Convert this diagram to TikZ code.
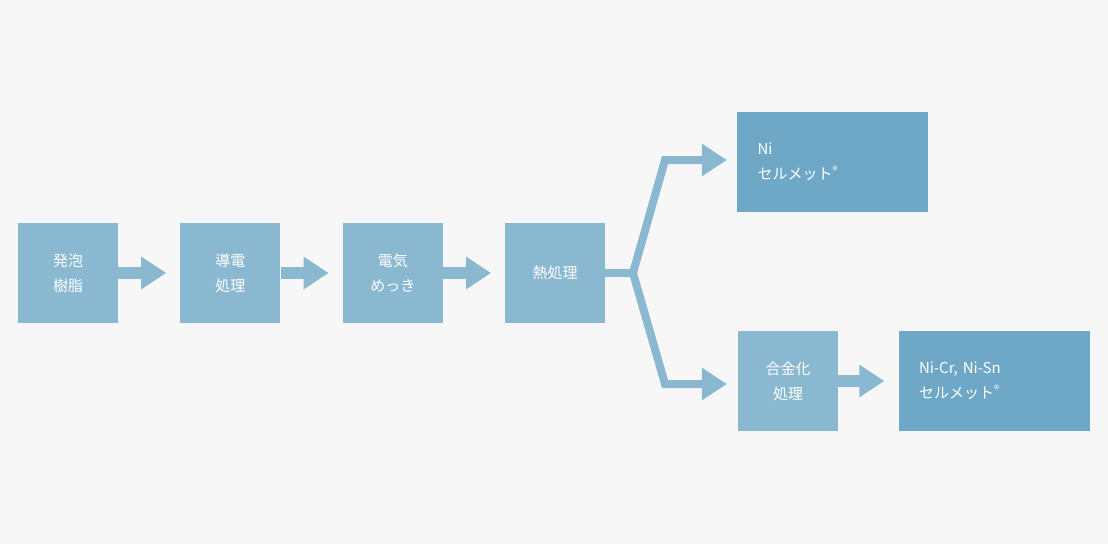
\documentclass[tikz,border=0pt]{standalone}
\usepackage{fontspec}
\setmainfont{Noto Sans CJK JP}
\usetikzlibrary{arrows.meta,positioning}
\definecolor{bgcol}{HTML}{F7F7F7}
\definecolor{boxlight}{HTML}{8AB8D1}
\definecolor{boxdark}{HTML}{6EA8C6}
\tikzset{
    stepbox/.style={shape=rectangle, fill=boxlight, text=white, minimum width=100pt, minimum height=100pt, align=center, font=\fontsize{15}{25}\selectfont, inner sep=0pt},
    resultbox/.style={stepbox, fill=boxdark, minimum width=191pt, align=left, text width=150pt},
    flow/.style={draw=boxlight, line width=12pt, -{Triangle[length=25pt,width=31pt]}},
    branch/.style={draw=boxlight, line width=8pt, line join=miter}
}
\begin{document}
\begin{tikzpicture}[x=1pt, y=-1pt, node distance=62pt]
    \fill[bgcol] (0,0) rectangle (1108,544);
    \node[stepbox] (foam) at (68,273) {発泡\\樹脂};
    \node[stepbox, right=of foam] (conduct) {導電\\処理};
    \node[stepbox, right=of conduct] (plating) {電気\\めっき};
    \node[stepbox, right=of plating] (heat) {熱処理};
    \node[resultbox] (nicermet) at (832.5,162) {Ni\\セルメット\textsuperscript{®}};
    \node[stepbox] (alloy) at (788,381) {合金化\\処理};
    \node[resultbox] (alloycermet) at (994,381) {Ni-Cr, Ni-Sn\\セルメット\textsuperscript{®}};
    \coordinate (fork) at (633,273);
    \coordinate (upbend) at (665,160);
    \coordinate (downbend) at (665,384);
    \draw[flow] (foam.east) -- ([xshift=-14pt]conduct.west);
    \draw[flow] (conduct.east) -- ([xshift=-14pt]plating.west);
    \draw[flow] (plating.east) -- ([xshift=-14pt]heat.west);
    \draw[flow] (alloy.east) -- ([xshift=-14pt]alloycermet.west);
    \draw[branch] (heat.east) -- (fork);
    \draw[branch] (fork) -- (upbend) -- (700,160);
    \draw[branch] (fork) -- (downbend) -- (700,384);
    \draw[flow, line width=8pt] (695,160) -- ([xshift=-10pt]nicermet.west |- upbend);
    \draw[flow, line width=8pt] (695,384) -- ([xshift=-11pt]alloy.west |- downbend);
\end{tikzpicture}
\end{document}
